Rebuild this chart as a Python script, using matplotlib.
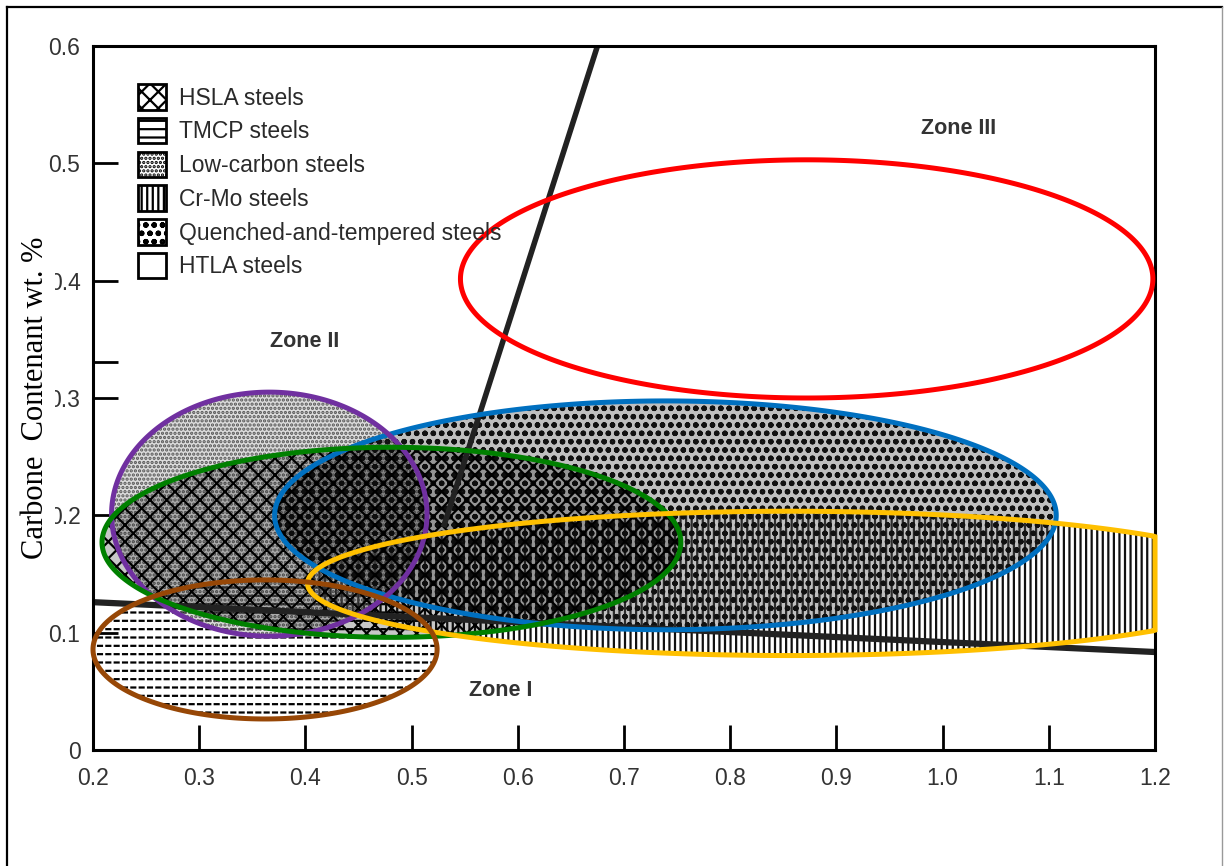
import numpy as np
import matplotlib
matplotlib.use("Agg")
import matplotlib.pyplot as plt
from matplotlib.patches import Polygon, Patch
from matplotlib.lines import Line2D

# ---------------- data ----------------
x_ticks = [0.2, 0.3, 0.4, 0.5, 0.6, 0.7, 0.8, 0.9, 1.0, 1.1, 1.2]
x_tick_labels = ["0.2", "0.3", "0.4", "0.5", "0.6", "0.7", "0.8", "0.9", "1.0", "1.1", "1.2"]
y_ticks = [0.0, 0.1, 0.2, 0.3, 0.4, 0.5, 0.6]
y_tick_labels = ["0", "0.1", "0.2", "0.3", "0.4", "0.5", "0.6"]
extra_y_ticks = [0.331]

legend_names = ["HSLA steels", "TMCP steels", "Low-carbon steels", "Cr-Mo steels",
                "Quenched-and-tempered steels", "HTLA steels"]
legend_hatches = ["xx", "--", "....", "|||", "oo", ""]

# highlighted steel regions: centre CE, centre C, width (CE), height (C)
region_names = ["Low-carbon", "HSLA", "Q&T", "Cr-Mo", "TMCP", "HTLA"]
region_cx = [0.366, 0.481, 0.739, 0.856, 0.362, 0.872]
region_cy = [0.201, 0.177, 0.200, 0.142, 0.0857, 0.4015]
region_w = [0.297, 0.545, 0.736, 0.908, 0.324, 0.652]
region_h = [0.208, 0.162, 0.195, 0.123, 0.1185, 0.203]
region_colors = ["#7030A0", "#008000", "#0070C0", "#FFC000", "#974706", "#FF0000"]

# zone boundary lines
boundary_low_x = [0.2, 1.2]
boundary_low_y = [0.126, 0.0835]
boundary_steep_x = [0.53, 0.675]
boundary_steep_y = [0.19, 0.6]

zone_names = ["Zone III", "Zone II", "Zone I"]
zone_x = [1.015, 0.399, 0.584]
zone_y = [0.530, 0.348, 0.051]

XMAX = 1.2

plt.rcParams['hatch.linewidth'] = 1.6
FONT = ['Liberation Sans', 'DejaVu Sans']

fig = plt.figure(figsize=(12.24, 8.66), dpi=100)
ax = fig.add_axes([93/1224, 116/866, 1062/1224, 704/866])
ax.set_xlim(0.2, 1.2)
ax.set_ylim(0.0, 0.6)


def ell_pts(i, xmax=None):
    t = np.linspace(0, 2*np.pi, 500)
    x = region_cx[i] + region_w[i]/2*np.cos(t)
    y = region_cy[i] + region_h[i]/2*np.sin(t)
    if xmax is not None:
        x = np.minimum(x, xmax)
    return np.column_stack([x, y])


def texture(i, hatch, color='black', xmax=None, z=1, fc='none'):
    p = Polygon(ell_pts(i, xmax), closed=True, facecolor=fc, edgecolor=color,
                hatch=hatch, linewidth=0, zorder=z)
    ax.add_patch(p)
    return p

idx = {n: k for k, n in enumerate(region_names)}
# TMCP: dashes (horizontal lines broken by white verticals)
texture(idx["TMCP"], "--", 'black', z=1)
texture(idx["TMCP"], "||", 'white', z=1.1)
# Cr-Mo vertical lines
texture(idx["Cr-Mo"], "|||", '#111111', xmax=XMAX, z=1.2)
# Low carbon fine dots
texture(idx["Low-carbon"], "....", '#555555', z=1.3, fc=(0.55, 0.55, 0.55, 0.30))
# Q&T wormy texture
texture(idx["Q&T"], "oo", '#111111', z=1.4, fc=(0.35, 0.35, 0.35, 0.38))
# HSLA crosshatch
texture(idx["HSLA"], "xx", 'black', z=1.5, fc=(0.0, 0.0, 0.0, 0.22))

# zone boundaries
ax.plot(boundary_low_x, boundary_low_y, color='#222222', lw=4.5, zorder=2, solid_capstyle='butt')
ax.plot(boundary_steep_x, boundary_steep_y, color='#222222', lw=4, zorder=2, solid_capstyle='butt')

# coloured outlines
order = ["HTLA", "Q&T", "Low-carbon", "HSLA", "Cr-Mo", "TMCP"]
for n in order:
    i = idx[n]
    xm = XMAX if n == "Cr-Mo" else None
    p = Polygon(ell_pts(i, xm), closed=True, facecolor='none', edgecolor=region_colors[i],
                linewidth=3.6, zorder=3, clip_on=False, joinstyle='miter')
    ax.add_patch(p)

# zone labels
for name, zx, zy in zip(zone_names, zone_x, zone_y):
    ax.text(zx, zy, name, ha='center', va='center', fontsize=15.5, color='#333333',
            family=FONT, fontweight='bold', zorder=4)

# axes styling
for s in ax.spines.values():
    s.set_linewidth(2.2)
    s.set_color('black')
ax.set_xticks(x_ticks)
ax.set_xticklabels(x_tick_labels, family=FONT, fontsize=16.5, color='#333333')
ax.set_yticks(y_ticks)
ax.set_yticklabels(y_tick_labels, family=FONT, fontsize=16.5, color='#333333')
ax.set_yticks(extra_y_ticks, minor=True)
ax.tick_params(axis='both', which='both', direction='in', length=18, width=2, color='black')
ax.tick_params(axis='x', pad=12)
ax.tick_params(axis='y', pad=9)

# legend
handles = [Patch(facecolor='white', edgecolor='black', hatch=h, linewidth=2.0) for h in legend_hatches]
leg = ax.legend(handles, legend_names, loc='upper left', bbox_to_anchor=(0.0424, 0.946),
                borderaxespad=0, borderpad=0, frameon=False, handlelength=1.2,
                handleheight=1.35, labelspacing=0.35, handletextpad=0.6,
                prop={'family': FONT, 'size': 16.5})
for t in leg.get_texts():
    t.set_color('#2a2a2a')
leg.set_zorder(5)

# y label with white box
fig.text(36/1224, 1 - 398/866, "Carbone  Contenant wt. %", rotation=90, ha='center', va='center',
         fontsize=22, family=['Liberation Serif', 'DejaVu Serif'], color='black', zorder=10,
         bbox=dict(facecolor='white', edgecolor='none', pad=3))

# outer frame
fig.add_artist(Line2D([7/1224, 7/1224], [0, 1 - 7/866], transform=fig.transFigure, color='black', lw=1.6))
fig.add_artist(Line2D([7/1224, 1222/1224], [1 - 7/866, 1 - 7/866], transform=fig.transFigure, color='black', lw=1.6))
fig.add_artist(Line2D([1222/1224, 1222/1224], [0, 1 - 7/866], transform=fig.transFigure, color='#999999', lw=1.0))

fig.savefig("out.png", dpi=100)
